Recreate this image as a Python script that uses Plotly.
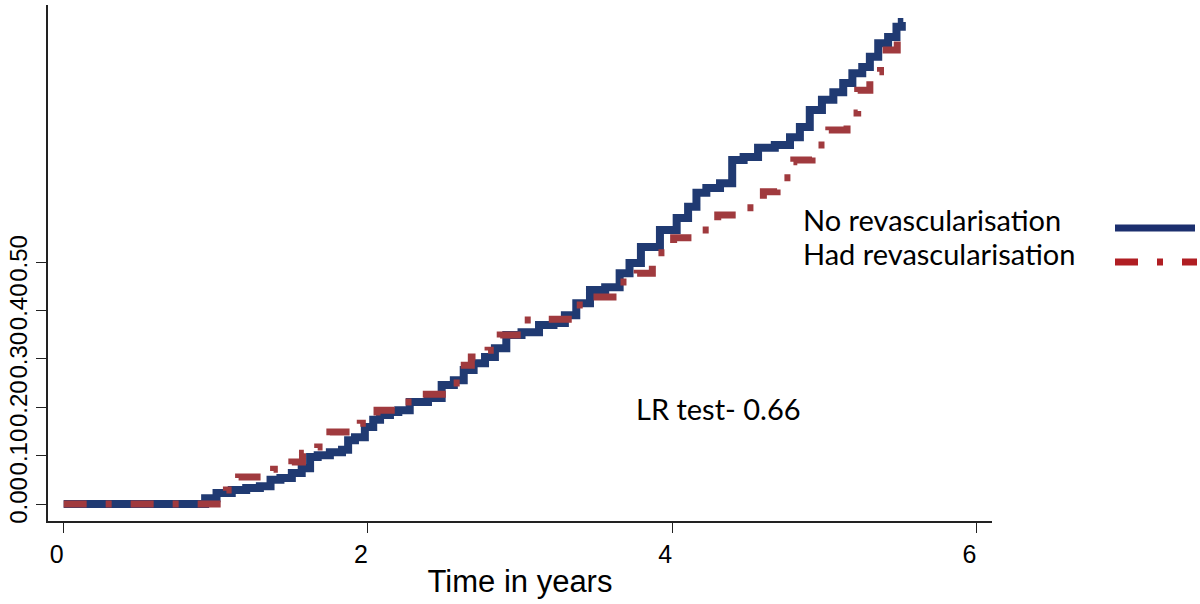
import plotly.graph_objects as go

# Cumulative incidence curves (time in years, proportion)
time_no = [0.00, 0.90, 0.96, 1.05, 1.16, 1.24, 1.34, 1.38, 1.47, 1.53, 1.60, 1.64, 1.70, 1.80, 1.86,
           1.88, 1.95, 2.01, 2.06, 2.10, 2.19, 2.21, 2.34, 2.45, 2.52, 2.61, 2.65, 2.74, 2.80, 2.87,
           2.95, 3.07, 3.18, 3.26, 3.33, 3.41, 3.51, 3.61, 3.70, 3.74, 3.85, 3.99, 4.07, 4.14, 4.18,
           4.27, 4.36, 4.43, 4.51, 4.62, 4.73, 4.82, 4.86, 4.95, 5.02, 5.10, 5.15, 5.22, 5.28, 5.32,
           5.39, 5.45, 5.50, 5.52]
inc_no = [0.000, 0.000, 0.012, 0.023, 0.029, 0.033, 0.037, 0.050, 0.054, 0.064, 0.074, 0.097, 0.101, 0.107, 0.112,
          0.132, 0.138, 0.159, 0.174, 0.184, 0.190, 0.194, 0.211, 0.219, 0.246, 0.256, 0.277, 0.291, 0.304, 0.322,
          0.349, 0.355, 0.370, 0.374, 0.390, 0.415, 0.442, 0.448, 0.477, 0.498, 0.531, 0.566, 0.591, 0.614, 0.643,
          0.653, 0.663, 0.711, 0.717, 0.736, 0.742, 0.758, 0.779, 0.814, 0.835, 0.851, 0.870, 0.890, 0.903, 0.924,
          0.952, 0.965, 0.986, 0.996]

time_had = [0.00, 1.03, 1.07, 1.15, 1.28, 1.38, 1.50, 1.57, 1.67, 1.75, 1.86, 1.95, 2.06, 2.15, 2.24,
            2.34, 2.49, 2.55, 2.61, 2.68, 2.79, 2.87, 2.95, 3.01, 3.15, 3.31, 3.35, 3.46, 3.58, 3.64,
            3.74, 3.77, 3.87, 4.01, 4.16, 4.30, 4.30, 4.46, 4.60, 4.60, 4.69, 4.78, 4.80, 4.92, 5.03,
            5.15, 5.22, 5.30, 5.37, 5.48, 5.50, 5.52]
inc_had = [0.000, 0.000, 0.029, 0.056, 0.056, 0.072, 0.087, 0.105, 0.118, 0.149, 0.149, 0.167, 0.194, 0.194, 0.211,
           0.227, 0.227, 0.250, 0.287, 0.304, 0.318, 0.349, 0.349, 0.380, 0.382, 0.382, 0.411, 0.428, 0.428, 0.459,
           0.473, 0.477, 0.519, 0.550, 0.566, 0.583, 0.597, 0.612, 0.628, 0.645, 0.674, 0.707, 0.711, 0.742, 0.773,
           0.808, 0.855, 0.893, 0.938, 0.965, 0.973, 0.973]

series_names = ["No revascularisation", "Had revascularisation"]
x_ticks = [0, 2, 4, 6]
y_ticks = [0.0, 0.1, 0.2, 0.3, 0.4, 0.5]
y_tick_text = ["0.00", "0.10", "0.20", "0.30", "0.40", "0.50"]
x_title = "Time in years"
lr_text = "LR test- 0.66"

blue = "#203a72"
red = "#a03a3e"

fig = go.Figure()
fig.add_trace(go.Scatter(x=time_no, y=inc_no, mode="lines", line_shape="hvh",
                         line=dict(color=blue, width=8), name=series_names[0], showlegend=False))
fig.add_trace(go.Scatter(x=time_had, y=inc_had, mode="lines", line_shape="hv",
                         line=dict(color=red, width=7, dash="23px,19px,6px,19px"),
                         name=series_names[1], showlegend=False))

L, R, T, B = 48, 208, 5, 83
W, H = 1200, 604
pw, ph = W - L - R, H - T - B

def px_x(p):
    return (p - L) / pw

def px_y(p):
    return (H - B - p) / ph

legend_font = dict(family="Lato, Open Sans, sans-serif", size=29, color="black")
fig.add_annotation(text=series_names[0], xref="paper", yref="paper", x=px_x(801), y=px_y(220),
                   xanchor="left", yanchor="middle", showarrow=False, font=legend_font)
fig.add_annotation(text=series_names[1], xref="paper", yref="paper", x=px_x(801), y=px_y(254),
                   xanchor="left", yanchor="middle", showarrow=False, font=legend_font)
fig.add_annotation(text=lr_text, xref="paper", yref="paper", x=px_x(718), y=px_y(408),
                   xanchor="center", yanchor="middle", showarrow=False, font=legend_font)
fig.add_shape(type="line", xref="paper", yref="paper", x0=px_x(1115), x1=px_x(1195),
              y0=px_y(228), y1=px_y(228), line=dict(color="#1c2f6e", width=7))
fig.add_shape(type="line", xref="paper", yref="paper", x0=px_x(1115), x1=px_x(1197),
              y0=px_y(262), y1=px_y(262), line=dict(color="#b01e23", width=7, dash="23px,19px,6px,19px"))

fig.update_layout(
    width=W, height=H,
    margin=dict(l=L, r=R, t=T, b=B),
    paper_bgcolor="white", plot_bgcolor="white",
    showlegend=False,
    xaxis=dict(range=[-0.103, 6.103], tickvals=x_ticks, ticktext=[str(v) for v in x_ticks],
               showgrid=False, zeroline=False, showline=True, linecolor="#222", linewidth=1.5,
               ticks="outside", ticklen=10, tickwidth=1, tickcolor="#222", ticklabelshift=-7,
               tickfont=dict(family="Liberation Sans, Arial, sans-serif", size=25, color="black"),
               title=dict(text=x_title, standoff=4,
                          font=dict(family="Liberation Sans, Arial, sans-serif", size=31, color="black"))),
    yaxis=dict(range=[-0.035, 1.031], tickvals=y_ticks, ticktext=y_tick_text, tickangle=-90,
               showgrid=False, zeroline=False, showline=True, linecolor="#222", linewidth=1.5,
               ticks="outside", ticklen=10, tickwidth=1, tickcolor="#222",
               tickfont=dict(family="Liberation Sans, Arial, sans-serif", size=24, color="black")),
)

fig.write_html("out.html", config={"displayModeBar": False},
               post_script="document.body.style.margin='0';document.body.style.overflow='hidden';")
